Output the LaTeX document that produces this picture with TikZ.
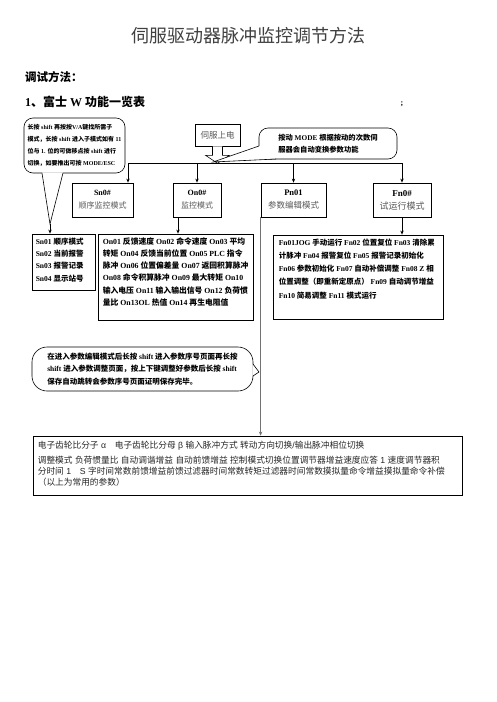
\documentclass[tikz,border=0pt]{standalone}
\usepackage{fontspec}
\setmainfont{Liberation Serif}
\newfontfamily\zhfont{Noto Sans CJK SC}
\newfontfamily\sansfont{Liberation Sans}
\usetikzlibrary{arrows.meta}

% Chinese characters switch to the CJK font by themselves
\XeTeXinterchartokenstate=1
\newXeTeXintercharclass\zhclass
\newcount\zhcode
\newcommand\zhrange[3]{\zhcode=#1\relax
  \loop
    \XeTeXcharclass\zhcode=#3\relax
    \ifnum\zhcode<#2\relax \advance\zhcode by 1
  \repeat}
\zhrange{"0021}{"007E}{0}
\zhrange{"3000}{"303F}{\zhclass}
\zhrange{"4E00}{"9FFF}{\zhclass}
\zhrange{"FF00}{"FFEF}{\zhclass}
\XeTeXinterchartoks 0 \zhclass = {\begingroup\zhfont}
\XeTeXinterchartoks 4095 \zhclass = {\begingroup\zhfont}
\XeTeXinterchartoks \zhclass 0 = {\endgroup}
\XeTeXinterchartoks \zhclass 4095 = {\endgroup}

\begin{document}
\begin{tikzpicture}[x=1pt,y=-1pt,
  arr/.style={-{Stealth[length=4pt,width=3.4pt]}},
  modebox/.style={draw,line width=0.8pt,minimum height=34pt,align=center,inner sep=0pt},
  listbox/.style={draw,line width=0.8pt,inner sep=0pt},
  listtext/.style={anchor=north west,align=left,inner sep=0pt},
  note/.style={draw,line width=0.6pt,fill=white,inner sep=0pt,align=left,font=\bfseries}]
\useasboundingbox[fill=white] (0,0) rectangle (496,702);

% headings
\node[font=\fontsize{18}{20}\selectfont,text=black!75] (title) at (248,36) {伺服驱动器脉冲监控调节方法};
\node[anchor=west,inner sep=0pt,font=\bfseries\fontsize{11.5}{13}\selectfont] (debug) at (25,77) {调试方法：};
\node[anchor=west,inner sep=0pt,font=\bfseries\fontsize{12}{14}\selectfont] (fuji) at (25,102) {1、富士 W 功能一览表};
\node[font=\bfseries\fontsize{8}{9}\selectfont] (semi) at (402,104) {;};

% callouts at the top
\node[note,rounded corners=9pt,minimum width=101pt,minimum height=55pt,
  font=\bfseries\fontsize{6}{12}\selectfont] (shiftnote) at (74.5,145.5)
  {长按 shift 再按按V/A键找所需子\\模式，长按 shift 进入子模式如有 11\\位与 1. 位的可做移点按 shift 进行\\切换，如要推出可按 MODE/ESC};
\coordinate (shifttip) at (50,224);
\fill[white] (42,172.4) -- (shifttip) -- (63,172.4) -- cycle;
\draw[line width=0.6pt] (42,173) -- (shifttip) -- (63,173);

\node[draw,line width=0.6pt,minimum width=45pt,minimum height=22pt,inner sep=0pt,
  font=\fontsize{8.5}{10}\selectfont,text=black!65] (power) at (217.5,135) {伺服上电};
\draw[line width=0.6pt,fill=white] (power.south) ++(-5,0) -- ++(0,9) -- ++(-7,0)
  -- ++(12,8) -- ++(12,-8) -- ++(-7,0) -- ++(0,-9);

\node[note,rounded corners=9pt,minimum width=138pt,minimum height=31pt,
  font=\bfseries\fontsize{7.3}{12}\selectfont] (modenote) at (328,143.5)
  {按动 MODE 根据按动的次数伺\\服器会自动变换参数功能};
\coordinate (modetip) at (213,162);
\fill[white] (259.5,146) -- (modetip) -- (276,158.5) -- (266,152) -- cycle;
\draw[line width=0.6pt] (259,146) -- (modetip) -- (276,159);

% the four modes
\node[modebox,minimum width=61pt,font=\fontsize{8}{13}\selectfont] (sn0) at (102.5,200)
  {\textbf{Sn0\#}\\\textcolor{black!65}{顺序监控模式}};
\node[modebox,minimum width=48pt,font=\fontsize{8}{13}\selectfont] (on0) at (197,200)
  {\textbf{On0\#}\\\textcolor{black!65}{监控模式}};
\node[modebox,minimum width=65pt,font=\fontsize{8.5}{13}\selectfont] (pn0) at (293.5,200)
  {\textbf{Pn01}\\\textcolor{black!65}{参数编辑模式}};
\node[modebox,minimum width=58pt,font=\fontsize{9}{13}\selectfont] (fn0) at (402,200)
  {\textbf{Fn0\#}\\\textcolor{black!65}{试运行模式}};

\coordinate (busL) at (128,163);
\coordinate (busR) at (fn0.north |- busL);
\draw[line width=0.7pt] (busL) -- (busR);
\draw[arr,line width=0.7pt] (busL) -- (busL |- sn0.north);
\draw[arr,line width=0.7pt] (on0.north |- busL) -- (on0.north);
\draw[arr,line width=0.7pt] (pn0.north |- busL) -- (pn0.north);
\draw[arr,line width=0.7pt] (busR) -- (fn0.north);

% lists under the modes
\node[listbox,minimum width=63pt,minimum height=56pt] (snlist) at (63.5,262) {};
\node[listtext,font=\bfseries\fontsize{7.5}{12.3}\selectfont] (sntext) at ([shift={(4,4)}]snlist.north west)
  {Sn01 顺序模式\\Sn02 当前报警\\Sn03 报警记录\\Sn04 显示站号};
\node[listbox,minimum width=155pt,minimum height=86pt] (onlist) at (175.5,277) {};
\node[listtext,font=\bfseries\fontsize{7.8}{12.1}\selectfont] (ontext) at ([shift={(5,4)}]onlist.north west)
  {On01 反馈速度 On02 命令速度 On03 平均\\
   转矩 On04 反馈当前位置 On05 PLC 指令\\
   脉冲 On06 位置偏差量 On07 返回积算脉冲\\
   On08 命令积算脉冲 On09 最大转矩 On10\\
   输入电压 On11 输入输出信号 On12 负荷惯\\
   量比 On13OL 热值 On14 再生电阻值};
\node[listbox,minimum width=170pt,minimum height=84pt] (fnlist) at (358,277) {};
\node[listtext,font=\bfseries\fontsize{7.5}{13.2}\selectfont] (fntext) at ([shift={(6,4)}]fnlist.north west)
  {Fn01JOG 手动运行 Fn02 位置复位 Fn03 清除累\\
   计脉冲 Fn04 报警复位 Fn05 报警记录初始化\\
   Fn06 参数初始化 Fn07 自动补偿调整 Fn08 Z 相\\
   位置调整（即重新定原点） Fn09 自动调节增益\\
   Fn10 简易调整 Fn11 模式运行};

\coordinate (ontop) at ([xshift=-19pt]on0.south);
\draw[arr,line width=0.7pt] (ontop) -- (ontop |- onlist.north);
\draw[arr,line width=0.7pt] (fn0.south) -- (fn0.south |- fnlist.north);
\draw[arr,line width=0.7pt] (shifttip) -- (shifttip |- snlist.north);

% the parameter list at the bottom
\node[listbox,minimum width=429pt,minimum height=59pt] (paramlist) at (247.5,465.5) {};
\node[listtext,text=black!85,font=\sansfont\fontsize{8.7}{11}\selectfont] (paramtext) at ([shift={(5,5)}]paramlist.north west)
  {电子齿轮比分子 α\quad 电子齿轮比分母 β 输入脉冲方式 转动方向切换/输出脉冲相位切换\\[4pt]
   调整模式 负荷惯量比 自动调谐增益 自动前馈增益 控制模式切换位置调节器增益速度应答 1 速度调节器积\\
   分时间 1\quad S 字时间常数前馈增益前馈过滤器时间常数转矩过滤器时间常数摸拟量命令增益摸拟量命令补偿\\
   （以上为常用的参数）};
\draw[arr,line width=1.6pt,black!55] (pn0.south west) -- (pn0.south west |- paramlist.north);

% note about saving
\node[note,rounded corners=15pt,minimum width=221pt,minimum height=44pt,
  font=\bfseries\fontsize{7.5}{12.5}\selectfont] (savenote) at (142.5,369)
  {在进入参数编辑模式后长按 shift 进入参数序号页面再长按\\shift 进入参数调整页面，按上下键调整好参数后长按 shift\\保存自动跳转会参数序号页面证明保存完毕。};
\coordinate (savetip) at (259,372);
\fill[white] (252.4,364) -- (savetip) -- (252.4,376) -- cycle;
\draw[line width=0.6pt] (253,364) -- (savetip) -- (253,376);
\end{tikzpicture}
\end{document}
